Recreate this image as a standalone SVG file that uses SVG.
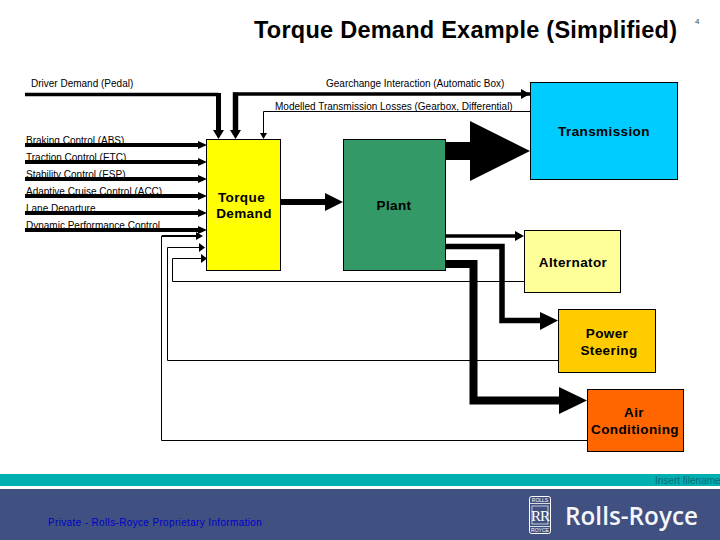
<svg xmlns="http://www.w3.org/2000/svg" width="720" height="540" viewBox="0 0 720 540">
<style>
text{font-family:"Liberation Sans",Arial,sans-serif;fill:#000}
.s{font-size:10px}
.n{font-size:13.5px;font-weight:bold;text-anchor:middle;letter-spacing:.4px}
.box{stroke:#000;stroke-width:1}
.w{fill:none;stroke:#000;stroke-linejoin:miter}
.h{fill:#000;stroke:none}
</style>
<rect width="720" height="540" fill="#fff"/>
<text x="254" y="38" font-size="23.500" font-weight="bold" textLength="423" lengthAdjust="spacing">Torque Demand Example (Simplified)</text>
<text x="695" y="24" font-size="8" style="fill:#444">4</text>
<text class="s" x="31" y="87">Driver Demand (Pedal)</text>
<text class="s" x="326" y="87">Gearchange Interaction (Automatic Box)</text>
<text class="s" x="275" y="110">Modelled Transmission Losses (Gearbox, Differential)</text>
<text class="s" x="26" y="144">Braking Control (ABS)</text>
<text class="s" x="26" y="161">Traction Control (ETC)</text>
<text class="s" x="26" y="178">Stability Control (ESP)</text>
<text class="s" x="26" y="195">Adaptive Cruise Control (ACC)</text>
<text class="s" x="26" y="212">Lane Departure</text>
<text class="s" x="26" y="229">Dynamic Performance Control</text>
<g id="connectors">
<path class="w" stroke-width="3.500" d="M25 94.500H218.500"/><path class="w" stroke-width="5" d="M218.500 93V130"/><polygon class="h" points="213,130 224,130 218.500,139"/>
<path class="w" stroke-width="3.500" d="M530 94H233"/><path class="w" stroke-width="5.500" d="M235.500 92.500V130"/><polygon class="h" points="230,130 241,130 235.500,139"/>
<polygon class="h" points="521,89 530,94 521,99"/>
<path class="w" stroke-width="1" d="M530 111.500H263.500V133"/><polygon class="h" points="260,133 267,133 263.500,139"/>
<g id="inputs">
<path class="w" stroke-width="4" d="M25 145H200M25 162H200M25 179H200M25 196H200M25 213H200M25 230H200"/>
<polygon class="h" points="198,141 207,145 198,149"/><polygon class="h" points="198,158 207,162 198,166"/><polygon class="h" points="198,175 207,179 198,183"/><polygon class="h" points="198,192 207,196 198,200"/><polygon class="h" points="198,209 207,213 198,217"/><polygon class="h" points="198,226 207,230 198,234"/>
</g>
<path class="w" stroke-width="1" d="M587 440.500H161.500V236H197"/><path class="w" stroke-width="2" d="M162 236H197"/><polygon class="h" points="196,232 203,236 196,240"/>
<path class="w" stroke-width="1" d="M558.500 360.500H167.500V247.500H200"/><polygon class="h" points="199,243 205,247.500 199,252"/>
<path class="w" stroke-width="1" d="M524 281.500H172.500V258.500H202"/><polygon class="h" points="201,254 207,258.500 201,263"/>
<path class="w" stroke-width="6" d="M280 202H326"/><polygon class="h" points="325,193 343,202 325,211"/>
<path class="w" stroke-width="18" d="M445 151H471"/><polygon class="h" points="470,121 530,151 470,181"/>
<path class="w" stroke-width="3.500" d="M445 236H516"/><polygon class="h" points="515,231 524,236 515,241"/>
<path class="w" stroke-width="5.500" d="M445 246.500H502V320.500H541"/><polygon class="h" points="540,312 558,320.500 540,330"/>
<path class="w" stroke-width="8" d="M445 264H473.500V400.500H560"/><polygon class="h" points="559,387 587,400.500 559,414"/>
</g>
<g id="torque-demand"><rect class="box" x="206.500" y="139.500" width="74" height="131" fill="#ffff00"/><text class="n" x="241.500" y="202">Torque</text><text class="n" x="244" y="218">Demand</text></g>
<g id="plant"><rect class="box" x="343.500" y="139.500" width="102" height="131" fill="#339966"/><text class="n" x="394" y="210">Plant</text></g>
<g id="transmission"><rect class="box" x="530.500" y="82.500" width="147" height="97" fill="#00ccff"/><text class="n" x="604" y="136">Transmission</text></g>
<g id="alternator"><rect class="box" x="524.500" y="230.500" width="96" height="62" fill="#ffff99"/><text class="n" x="573" y="267">Alternator</text></g>
<g id="power-steering"><rect class="box" x="558.500" y="309.500" width="97" height="63" fill="#ffcc00"/><text class="n" x="607" y="338">Power</text><text class="n" x="609" y="355">Steering</text></g>
<g id="air-conditioning"><rect class="box" x="587.500" y="389.500" width="96" height="62" fill="#ff6600"/><text class="n" x="634" y="417">Air</text><text class="n" x="635" y="434">Conditioning</text></g>
<g id="footer">
<rect y="474" width="720" height="12" fill="#00b0b0"/>
<rect y="489" width="720" height="51" fill="#405080"/>
<text x="655" y="484" font-size="10" style="fill:#0a6a78">Insert filename</text>
<text x="48" y="526" font-size="10" letter-spacing=".35" style="fill:#0000cc">Private - Rolls-Royce Proprietary Information</text>
<rect x="529.500" y="496.500" width="21" height="37" rx="2" fill="#405080" stroke="#fff" stroke-width="1"/>
<path d="M530 503.500H550M530 526.500H550" stroke="#fff" stroke-width=".8"/>
<rect x="532" y="506" width="16" height="18" fill="none" stroke="#fff" stroke-width=".7"/>
<text x="540" y="502" font-size="5" text-anchor="middle" style="fill:#fff">ROLLS</text>
<text x="540" y="520.500" font-size="15" text-anchor="middle" style="fill:#fff;font-family:'Liberation Serif',serif" letter-spacing="-1">RR</text>
<text x="540" y="532" font-size="5" text-anchor="middle" style="fill:#fff">ROYCE</text>
<text x="565" y="525" font-size="25" font-weight="600" textLength="133" lengthAdjust="spacingAndGlyphs" style="fill:#f4f6fa;font-family:'Open Sans',sans-serif">Rolls-Royce</text>
</g>
</svg>
